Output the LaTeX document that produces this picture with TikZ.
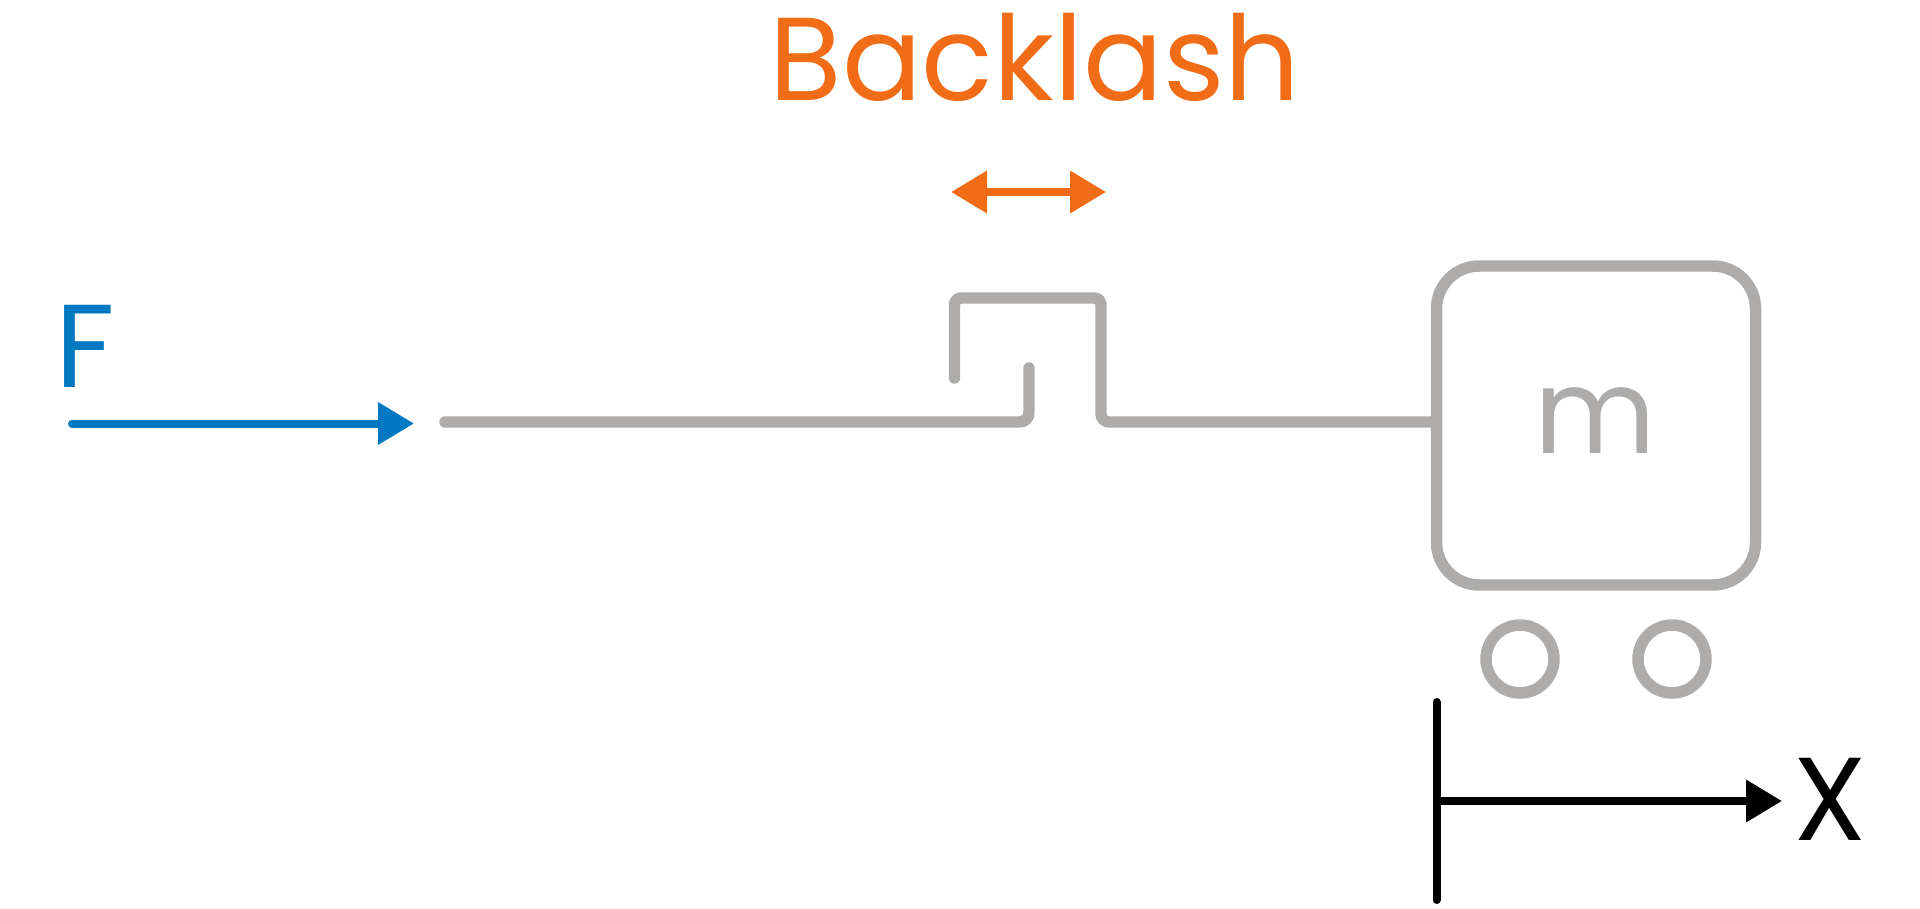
\documentclass[tikz,border=0pt]{standalone}
\usepackage{fontspec}
\setmainfont{Poppins}
\usetikzlibrary{arrows.meta}
\definecolor{fblue}{HTML}{0079C2}
\definecolor{borange}{HTML}{F06C17}
\definecolor{mgrey}{HTML}{ADACAA}
\tikzset{
  px/.style={x=0.75pt,y=-0.75pt},
  greyline/.style={draw=mgrey,line width=8.6pt,line cap=round,line join=round},
  arrowline/.style={line width=6pt,line cap=round},
  txt/.style={inner sep=0pt,outer sep=0pt,anchor=base,font=\fontsize{88.5pt}{100pt}\selectfont},
  wheel/.style={circle,draw=mgrey,line width=8.6pt,minimum size=51pt,inner sep=0pt,outer sep=0pt},
  massbox/.style={draw=mgrey,line width=8.6pt,rounded corners=32pt,minimum width=239.25pt,minimum height=239.25pt,inner sep=0pt,outer sep=0pt}
}
\begin{document}
\begin{tikzpicture}[px]
\useasboundingbox (0,0) rectangle (1920,908);
% mass and wheels
\node[massbox] (mass) at (1596,425.5) {};
\node[txt,text=mgrey] (mlabel) at (1595.5,453) {m};
\node[wheel] (w1) at (1520,659) {};
\node[wheel] (w2) at (1672,659) {};
% backlash linkage
\coordinate (inputstart) at (445,422);
\coordinate (inputend) at (1029,368);
\coordinate (outstart) at (954.5,378);
\coordinate (massport) at (1436,422);
\draw[greyline,rounded corners=7pt] (inputstart) -- (inputend |- inputstart) -- (inputend);
\draw[greyline,rounded corners=5pt] (outstart) -- (954.5,298) -- (1101,298) [rounded corners=6pt] -- (1101,422) -- (massport);
% force
\coordinate (fstart) at (72,423.5);
\coordinate (fend) at (414,423.5);
\draw[arrowline,draw=fblue,-{Triangle[length=27pt,width=30.5pt,color=fblue]}] (fstart) -- (fend);
\node[txt,text=fblue] (flabel) at (85,387) {F};
% backlash arrow
\coordinate (bl) at (951,192);
\coordinate (br) at (1106,192);
\draw[line width=6pt,draw=borange,{Triangle[length=27pt,width=30.5pt,color=borange]}-{Triangle[length=27pt,width=30.5pt,color=borange]}] (bl) -- (br);
\node[txt,text=borange] (blabel) at (1035,100.5) {Backlash};
% x axis
\coordinate (xtop) at (1436.5,702);
\coordinate (xbot) at (1436.5,900);
\coordinate (xorig) at (1436.5,801);
\coordinate (xend) at (1782,801);
\draw[arrowline,draw=black] (xtop) -- (xbot);
\draw[line width=6pt,draw=black,-{Triangle[length=27pt,width=30.5pt,color=black]}] (xorig) -- (xend);
\node[txt,text=black] (xlabel) at (1830.5,840) {X};
\end{tikzpicture}
\end{document}
